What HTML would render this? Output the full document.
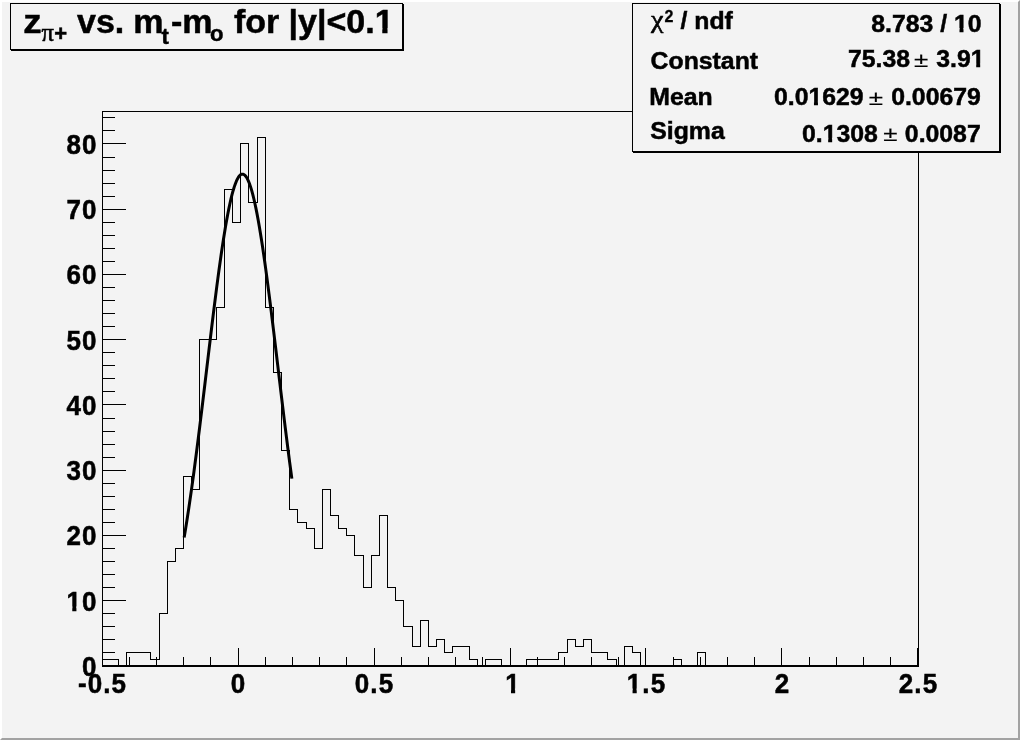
<!DOCTYPE html>
<html><head><meta charset="utf-8"><title>c1</title>
<style>
html,body{margin:0;padding:0;background:#f3f3f3;}
body{width:1020px;height:740px;overflow:hidden;position:relative;}
svg{position:absolute;left:0;top:0;display:block;will-change:transform;}
text{font-family:"Liberation Sans",sans-serif;font-weight:bold;fill:#000;stroke:#000;stroke-width:0.5px;}
.pm text{font-weight:normal;stroke-width:0.2px;}
.ser{font-family:"Liberation Serif",serif;font-weight:normal;font-style:normal;stroke-width:0.6px;}
</style></head><body>
<svg width="1020" height="740" viewBox="0 0 1020 740">
<rect x="0" y="0" width="1020" height="740" fill="#f3f3f3"/>
<!-- canvas bevel -->
<polygon points="0,0 1020,0 1018,2 2,2 2,738 0,740" fill="#ffffff"/>
<polygon points="1020,740 0,740 2,738 1018,738 1018,2 1020,0" fill="#a2a2a2"/>
<g shape-rendering="crispEdges" stroke="#000" stroke-width="1" fill="none">
<!-- frame -->
<rect x="102.5" y="111.5" width="816" height="555"/>
<line x1="102" y1="665.5" x2="919" y2="665.5"/>
<line x1="102" y1="666.5" x2="126" y2="666.5"/>
<line x1="102" y1="652.5" x2="115" y2="652.5"/>
<line x1="102" y1="639.5" x2="115" y2="639.5"/>
<line x1="102" y1="626.5" x2="115" y2="626.5"/>
<line x1="102" y1="613.5" x2="115" y2="613.5"/>
<line x1="102" y1="600.5" x2="126" y2="600.5"/>
<line x1="102" y1="587.5" x2="115" y2="587.5"/>
<line x1="102" y1="574.5" x2="115" y2="574.5"/>
<line x1="102" y1="561.5" x2="115" y2="561.5"/>
<line x1="102" y1="548.5" x2="115" y2="548.5"/>
<line x1="102" y1="535.5" x2="126" y2="535.5"/>
<line x1="102" y1="522.5" x2="115" y2="522.5"/>
<line x1="102" y1="509.5" x2="115" y2="509.5"/>
<line x1="102" y1="496.5" x2="115" y2="496.5"/>
<line x1="102" y1="483.5" x2="115" y2="483.5"/>
<line x1="102" y1="470.5" x2="126" y2="470.5"/>
<line x1="102" y1="457.5" x2="115" y2="457.5"/>
<line x1="102" y1="444.5" x2="115" y2="444.5"/>
<line x1="102" y1="431.5" x2="115" y2="431.5"/>
<line x1="102" y1="418.5" x2="115" y2="418.5"/>
<line x1="102" y1="404.5" x2="126" y2="404.5"/>
<line x1="102" y1="391.5" x2="115" y2="391.5"/>
<line x1="102" y1="378.5" x2="115" y2="378.5"/>
<line x1="102" y1="365.5" x2="115" y2="365.5"/>
<line x1="102" y1="352.5" x2="115" y2="352.5"/>
<line x1="102" y1="339.5" x2="126" y2="339.5"/>
<line x1="102" y1="326.5" x2="115" y2="326.5"/>
<line x1="102" y1="313.5" x2="115" y2="313.5"/>
<line x1="102" y1="300.5" x2="115" y2="300.5"/>
<line x1="102" y1="287.5" x2="115" y2="287.5"/>
<line x1="102" y1="274.5" x2="126" y2="274.5"/>
<line x1="102" y1="261.5" x2="115" y2="261.5"/>
<line x1="102" y1="248.5" x2="115" y2="248.5"/>
<line x1="102" y1="235.5" x2="115" y2="235.5"/>
<line x1="102" y1="222.5" x2="115" y2="222.5"/>
<line x1="102" y1="209.5" x2="126" y2="209.5"/>
<line x1="102" y1="196.5" x2="115" y2="196.5"/>
<line x1="102" y1="183.5" x2="115" y2="183.5"/>
<line x1="102" y1="170.5" x2="115" y2="170.5"/>
<line x1="102" y1="157.5" x2="115" y2="157.5"/>
<line x1="102" y1="143.5" x2="126" y2="143.5"/>
<line x1="102" y1="130.5" x2="115" y2="130.5"/>
<line x1="102" y1="117.5" x2="115" y2="117.5"/>
<line x1="102.5" y1="666" x2="102.5" y2="648"/>
<line x1="129.5" y1="666" x2="129.5" y2="657"/>
<line x1="156.5" y1="666" x2="156.5" y2="657"/>
<line x1="183.5" y1="666" x2="183.5" y2="657"/>
<line x1="210.5" y1="666" x2="210.5" y2="657"/>
<line x1="238.5" y1="666" x2="238.5" y2="648"/>
<line x1="265.5" y1="666" x2="265.5" y2="657"/>
<line x1="292.5" y1="666" x2="292.5" y2="657"/>
<line x1="319.5" y1="666" x2="319.5" y2="657"/>
<line x1="346.5" y1="666" x2="346.5" y2="657"/>
<line x1="374.5" y1="666" x2="374.5" y2="648"/>
<line x1="401.5" y1="666" x2="401.5" y2="657"/>
<line x1="428.5" y1="666" x2="428.5" y2="657"/>
<line x1="455.5" y1="666" x2="455.5" y2="657"/>
<line x1="482.5" y1="666" x2="482.5" y2="657"/>
<line x1="510.5" y1="666" x2="510.5" y2="648"/>
<line x1="537.5" y1="666" x2="537.5" y2="657"/>
<line x1="564.5" y1="666" x2="564.5" y2="657"/>
<line x1="591.5" y1="666" x2="591.5" y2="657"/>
<line x1="618.5" y1="666" x2="618.5" y2="657"/>
<line x1="645.5" y1="666" x2="645.5" y2="648"/>
<line x1="673.5" y1="666" x2="673.5" y2="657"/>
<line x1="700.5" y1="666" x2="700.5" y2="657"/>
<line x1="727.5" y1="666" x2="727.5" y2="657"/>
<line x1="754.5" y1="666" x2="754.5" y2="657"/>
<line x1="781.5" y1="666" x2="781.5" y2="648"/>
<line x1="809.5" y1="666" x2="809.5" y2="657"/>
<line x1="836.5" y1="666" x2="836.5" y2="657"/>
<line x1="863.5" y1="666" x2="863.5" y2="657"/>
<line x1="890.5" y1="666" x2="890.5" y2="657"/>
<line x1="917.5" y1="666" x2="917.5" y2="648"/>
<path d="M102.5 666.5 V659.5 H110.5 H118.5 V666.5 H126.5 V652.5 H134.5 H142.5 H150.5 V659.5 H159.5 V613.5 H167.5 V561.5 H175.5 V548.5 H183.5 V476.5 H191.5 V489.5 H199.5 V339.5 H208.5 H216.5 V307.5 H224.5 V189.5 H232.5 V222.5 H240.5 V143.5 H248.5 V202.5 H257.5 V137.5 H265.5 V307.5 H273.5 V372.5 H281.5 V450.5 H289.5 V509.5 H297.5 V522.5 H306.5 V528.5 H314.5 V548.5 H322.5 V489.5 H330.5 V515.5 H338.5 V528.5 H346.5 V535.5 H354.5 V555.5 H363.5 V587.5 H371.5 V555.5 H379.5 V515.5 H387.5 V587.5 H395.5 V600.5 H403.5 V626.5 H412.5 V646.5 H420.5 V620.5 H428.5 V646.5 H436.5 V639.5 H444.5 V652.5 H452.5 V646.5 H461.5 H469.5 V659.5 H477.5 V666.5 H485.5 V659.5 H493.5 H501.5 V666.5 H510.5 H518.5 H526.5 V659.5 H534.5 H542.5 H550.5 H558.5 V652.5 H567.5 V639.5 H575.5 V646.5 H583.5 V639.5 H591.5 V652.5 H599.5 H607.5 V659.5 H616.5 V666.5 H624.5 V646.5 H632.5 V652.5 H640.5 V666.5 H648.5 H656.5 H665.5 H673.5 V659.5 H681.5 V666.5 H689.5 H697.5 V652.5 H705.5 V666.5 H714.5 H722.5 H730.5 H738.5 H746.5 H754.5 H762.5 H771.5 H779.5 H787.5 H795.5 H803.5 H811.5 H820.5 H828.5 H836.5 H844.5 H852.5 H860.5 H869.5 H877.5 H885.5 H893.5 H901.5 H909.5 H918.5 V666.5"/>
</g>
<polyline points="184.14,537.46 185.23,530.92 186.32,524.18 187.41,517.24 188.50,510.11 189.58,502.79 190.67,495.28 191.76,487.60 192.85,479.74 193.94,471.72 195.02,463.55 196.11,455.23 197.20,446.77 198.29,438.18 199.38,429.48 200.46,420.68 201.55,411.79 202.64,402.82 203.73,393.79 204.82,384.72 205.90,375.61 206.99,366.49 208.08,357.37 209.17,348.27 210.26,339.20 211.34,330.20 212.43,321.26 213.52,312.42 214.61,303.70 215.70,295.10 216.78,286.66 217.87,278.38 218.96,270.30 220.05,262.42 221.14,254.77 222.22,247.37 223.31,240.24 224.40,233.39 225.49,226.83 226.58,220.60 227.66,214.70 228.75,209.15 229.84,203.96 230.93,199.15 232.02,194.73 233.10,190.72 234.19,187.12 235.28,183.94 236.37,181.19 237.46,178.89 238.54,177.03 239.63,175.62 240.72,174.67 241.81,174.18 242.90,174.14 243.98,174.57 245.07,175.46 246.16,176.80 247.25,178.59 248.34,180.83 249.42,183.51 250.51,186.63 251.60,190.17 252.69,194.13 253.78,198.49 254.86,203.24 255.95,208.37 257.04,213.87 258.13,219.72 259.22,225.91 260.30,232.42 261.39,239.23 262.48,246.32 263.57,253.69 264.66,261.30 265.74,269.14 266.83,277.20 267.92,285.45 269.01,293.87 270.10,302.44 271.18,311.15 272.27,319.98 273.36,328.90 274.45,337.89 275.54,346.95 276.62,356.04 277.71,365.16 278.80,374.29 279.89,383.40 280.98,392.48 282.06,401.52 283.15,410.49 284.24,419.40 285.33,428.21 286.42,436.93 287.50,445.53 288.59,454.01 289.68,462.35 290.77,470.55 291.86,478.59" fill="none" stroke="#000" stroke-width="3" stroke-linejoin="round"/>
<!-- title box -->
<g shape-rendering="crispEdges">
<rect x="10.5" y="3.5" width="392" height="46" fill="#f3f3f3" stroke="#000"/>
<rect x="403" y="4" width="1" height="47" fill="#000"/>
<rect x="11" y="50" width="393" height="1" fill="#000"/>
<!-- stats box -->
<rect x="632.5" y="3.5" width="367" height="148" fill="#f3f3f3" stroke="#000"/>
<rect x="1000" y="4" width="1" height="149" fill="#000"/>
<rect x="633" y="152" width="368" height="1" fill="#000"/>
</g>
<g font-size="34">
<text transform="translate(23.2,32.8) scale(1.08,1)">z</text>
<text x="41.6" y="40.6" class="ser" font-size="24.5">π</text>
<text x="54.3" y="41" font-size="22">+</text>
<text x="77" y="32.8">vs.</text>
<text x="133.2" y="32.8">m</text>
<text x="161.5" y="43.6" font-size="22">t</text>
<text x="171" y="33.3">-</text>
<text x="182.3" y="32.8">m</text>
<text x="210" y="40.7" font-size="22">o</text>
<text x="234" y="32.8">for</text>
<text x="288.5" y="32.8">|y|&lt;0.1</text>
</g>
<g font-size="24.8">
<text transform="translate(651,28.3) scale(1.08,1)" class="ser" font-size="26">χ</text>
<text x="664.6" y="21.6" font-size="16" style="stroke-width:0.3px">2</text>
<text x="680.5" y="29">/ ndf</text>
<text x="650.6" y="68.9">Constant</text>
<text x="649.3" y="104.5">Mean</text>
<text x="650.3" y="139.4">Sigma</text>
<text x="981.6" y="31.7" text-anchor="end">8.783 / 10</text>
<text x="984.5" y="67.4" text-anchor="end">3.91</text>
<text x="980.8" y="104.9" text-anchor="end">0.00679</text>
<text x="980.7" y="141.5" text-anchor="end">0.0087</text>
<text x="848" y="67.4">75.38</text>
<text x="774" y="104.9">0.01629</text>
<text x="802" y="141.5">0.1308</text>
<g class="pm" font-size="26">
<text transform="translate(914,67.4) scale(1,0.78)">±</text>
<text transform="translate(868.8,104.9) scale(1,0.78)">±</text>
<text transform="translate(883.2,141.2) scale(1,0.78)">±</text>
</g>
</g>
<g font-size="26" letter-spacing="1.1" style="stroke-width:0.4px">
<text transform="translate(97.6,675.8) scale(1,1.077)" text-anchor="end">0</text>
<text transform="translate(97.6,610.5) scale(1,1.077)" text-anchor="end">10</text>
<text transform="translate(97.6,545.3) scale(1,1.077)" text-anchor="end">20</text>
<text transform="translate(97.6,480.0) scale(1,1.077)" text-anchor="end">30</text>
<text transform="translate(97.6,414.8) scale(1,1.077)" text-anchor="end">40</text>
<text transform="translate(97.6,349.5) scale(1,1.077)" text-anchor="end">50</text>
<text transform="translate(97.6,284.3) scale(1,1.077)" text-anchor="end">60</text>
<text transform="translate(97.6,219.0) scale(1,1.077)" text-anchor="end">70</text>
<text transform="translate(97.6,153.8) scale(1,1.077)" text-anchor="end">80</text>
<text transform="translate(102.5,692.6) scale(1,1.077)" text-anchor="middle">-0.5</text>
<text transform="translate(238.5,692.6) scale(1,1.077)" text-anchor="middle">0</text>
<text transform="translate(374.5,692.6) scale(1,1.077)" text-anchor="middle">0.5</text>
<text transform="translate(513.0,692.6) scale(1,1.077)" text-anchor="middle">1</text>
<text transform="translate(646.5,692.6) scale(1,1.077)" text-anchor="middle">1.5</text>
<text transform="translate(782.5,692.6) scale(1,1.077)" text-anchor="middle">2</text>
<text transform="translate(918.5,692.6) scale(1,1.077)" text-anchor="middle">2.5</text>
</g>
<g fill="#f3f3f3" id="ft"><rect x="375.18" y="28.13" width="7.09" height="6.47"/><rect x="387.54" y="28.13" width="6.66" height="6.47"/><rect x="953.97" y="27.97" width="5.53" height="5.53"/><rect x="963.50" y="27.97" width="5.21" height="5.53"/><rect x="970.67" y="63.67" width="5.53" height="5.53"/><rect x="980.19" y="63.67" width="5.21" height="5.53"/><rect x="808.43" y="101.17" width="5.53" height="5.53"/><rect x="817.96" y="101.17" width="5.21" height="5.53"/><rect x="822.63" y="137.77" width="5.53" height="5.53"/><rect x="832.16" y="137.77" width="5.21" height="5.53"/><rect x="66.53" y="606.35" width="5.73" height="6.09"/><rect x="76.43" y="606.35" width="5.40" height="6.09"/><rect x="505.26" y="688.45" width="5.73" height="6.09"/><rect x="515.15" y="688.45" width="5.40" height="6.09"/><rect x="626.83" y="688.45" width="5.73" height="6.09"/><rect x="636.72" y="688.45" width="5.40" height="6.09"/></g>
</svg>
</body></html>
